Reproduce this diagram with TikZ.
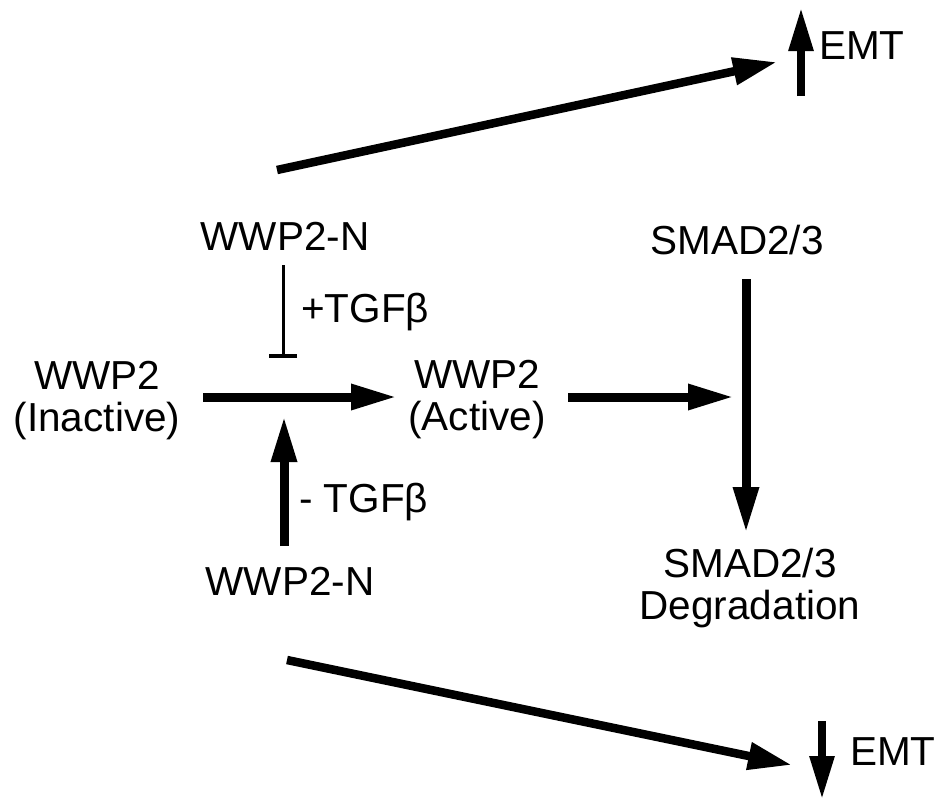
\documentclass[tikz,border=0pt]{standalone}
\usepackage{fontspec}
\setmainfont{Liberation Sans}
\usetikzlibrary{arrows.meta}
\tikzset{
  lbl/.style={inner sep=0pt, align=center, font=\fontsize{40.5}{42}\selectfont},
  thick arrow/.style={line width=9pt, -{Triangle[length=46pt,width=24pt]}},
  diag arrow/.style={line width=8.5pt, -{Triangle[length=44pt,width=26pt]}},
  emt arrow/.style={line width=8.5pt, -{Triangle[length=44pt,width=23pt]}},
  inhib/.style={line width=3pt, -{Bar[width=28pt,line width=4pt]}},
}
\begin{document}
\begin{tikzpicture}[x=1pt,y=-1pt]
\useasboundingbox (0,0) rectangle (944,801);
% text nodes
\node[lbl] (wn1) at (285,236) {WWP2-N};
\node[lbl] (smad) at (737,240) {SMAD2/3};
\node[lbl, anchor=west] (ptgf) at (301,312) {+TGFβ};
\node[lbl] (inact) at (97,401) {WWP2\\(Inactive)};
\node[lbl] (act) at (477,400) {WWP2\\(Active)};
\node[lbl, anchor=west] (mtgf) at (299,502) {- TGFβ};
\node[lbl] (wn2) at (290,581) {WWP2-N};
\node[lbl] (deg) at (750,588) {SMAD2/3\\Degradation};
\node[lbl, anchor=west] (emtup) at (819,46) {EMT};
\node[lbl, anchor=west] (emtdn) at (850,752) {EMT};
% coordinates
\coordinate (topS) at (277,170);
\coordinate (topE) at (777,62);
\coordinate (upB) at (801,96);
\coordinate (upT) at (801,7);
\coordinate (inS) at (283,265);
\coordinate (inE) at (283,358);
\coordinate (hS) at (203,397);
\coordinate (hE) at (397,397);
\coordinate (vS) at (284,546);
\coordinate (vE) at (284,416);
\coordinate (aS) at (568,397);
\coordinate (aE) at (734,397);
\coordinate (sS) at (746,279);
\coordinate (sE) at (746,533);
\coordinate (botS) at (287,660);
\coordinate (botE) at (792,765);
\coordinate (dnT) at (822,721);
\coordinate (dnB) at (822,800);
% connectors
\draw[diag arrow] (topS) -- (topE);
\draw[emt arrow] (upB) -- (upT);
\draw[inhib] (inS) -- (inE);
\draw[thick arrow] (hS) -- (hE);
\draw[thick arrow] (vS) -- (vE);
\draw[thick arrow] (aS) -- (aE);
\draw[thick arrow] (sS) -- (sE);
\draw[diag arrow] (botS) -- (botE);
\draw[emt arrow] (dnT) -- (dnB);
\end{tikzpicture}
\end{document}
